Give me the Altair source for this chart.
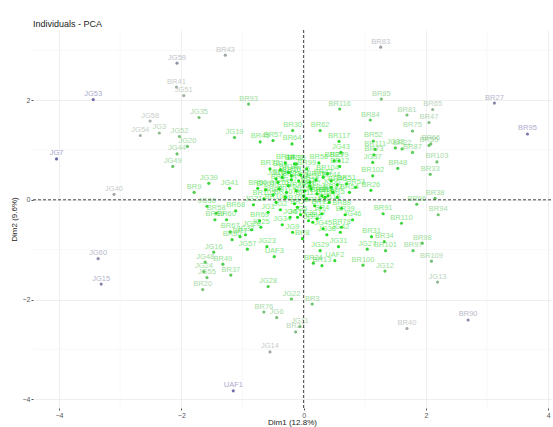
import altair as alt
import pandas as pd

# Individuals on the first two principal components
labels = [
    "BR43", "JG59", "BR41", "JG51", "JG53", "BR93", "JG35", "JG58", "JG54", "JG3",
    "JG52", "JG20", "JG19", "BR45", "BR57", "JG7", "JG44", "JG49", "JG40", "BR9",
    "JG39", "JG41", "BR50", "BR30", "BR64", "BR83", "BR85", "BR116", "BR84", "BR81",
    "BR65", "BR47", "BR75", "BR27", "BR95", "BR62", "BR117", "BR52", "JG33", "BR66",
    "BR55", "BR87", "BR22", "JG43", "BR111", "BR73", "BR103", "BR33", "BR48", "BR56",
    "BR79", "BR12", "JG37", "BR102", "BR104", "BR38", "BR96", "BR26", "BR54", "BR18",
    "BR36", "JG18", "BR94", "BR110", "BR91", "BR31", "BR34", "BR98", "BR97", "BR101",
    "JG27", "BR109", "JG12", "BR100", "JG13", "JG22", "BR3", "JG6", "JG11", "BR21",
    "BR40", "BR90", "JG14", "UAF1", "JG60", "JG15", "BR20", "BR37", "JG55", "JG48",
    "JG24", "BR49", "JG16", "JG28", "BR76", "UAF3", "JG57", "BR69", "BR60", "BR67",
    "BR68", "JG30", "BR58", "BR59", "JG21", "BR7", "BR80", "JG23", "JG9", "BR8",
    "JG29", "JG31", "UAF2", "BR24", "BR13", "BR78", "JG45", "BR15", "BR88", "BR39",
    "BR29", "BR32", "BR72", "BR1", "BR14", "BR16", "BR99", "JG10", "BR19", "BR23",
    "BR25", "BR28", "BR35", "BR42", "BR44", "BR46", "BR51", "BR53", "BR61", "BR63",
    "BR70", "BR71", "BR74", "BR77", "BR82", "BR86", "BR89", "BR92", "BR105", "BR106",
    "BR107", "BR108", "BR112", "BR113", "BR114", "BR115", "JG1", "JG2", "JG4", "JG5",
    "JG8", "JG17", "JG25", "JG26", "JG32", "JG34", "JG36", "JG38", "JG42", "JG46",
    "JG47", "JG50", "JG56", "BR2", "BR4", "BR5", "BR6", "BR10", "BR11", "BR17",
]
dim1 = [
    -1.28, -2.07, -2.08, -1.96, -3.44, -0.90, -1.71, -2.51, -2.67, -2.36,
    -2.03, -1.90, -1.13, -0.71, -0.50, -4.04, -2.07, -2.14, -3.10, -1.79,
    -1.55, -1.21, -0.75, -0.18, -0.19, 1.26, 1.27, 0.59, 1.09, 1.69,
    2.11, 2.05, 1.78, 3.12, 3.66, 0.27, 0.58, 1.14, 1.50, 2.08,
    2.05, 1.78, 1.61, 0.61, 1.17, 1.15, 2.18, 2.07, 1.54, 0.25,
    0.58, 0.59, 1.13, 1.13, 0.39, 2.15, 1.85, 1.10, 0.75, -0.30,
    -0.12, -0.10, 2.20, 1.60, 1.30, 1.11, 1.32, 1.94, 1.79, 1.34,
    1.04, 2.09, 1.33, 0.97, 2.19, -0.20, 0.14, -0.44, -0.06, -0.13,
    1.69, 2.69, -0.55, -1.15, -3.36, -3.31, -1.65, -1.19, -1.58, -1.61,
    -1.63, -1.32, -1.47, -0.58, -0.65, -0.48, -0.92, -0.72, -1.26, -1.20,
    -1.11, -1.58, -1.43, -1.45, -0.82, -1.04, -1.17, -0.60, -0.18, -0.02,
    0.27, 0.57, 0.51, 0.16, 0.30, 0.62, 0.32, 0.28, 0.62, 0.68,
    0.50, -0.15, -0.55, -0.38, -0.25, -0.05, 0.05, -0.45, -0.35, -0.20,
    -0.08, 0.10, 0.20, 0.32, 0.45, 0.55, 0.70, 0.85, -0.62, -0.50,
    -0.40, -0.28, -0.12, 0.00, 0.12, 0.22, 0.35, 0.48, -0.65, -0.45,
    -0.30, -0.15, 0.05, 0.18, 0.30, 0.42, -0.58, -0.38, -0.22, -0.05,
    0.08, 0.22, -0.70, -0.85, -0.95, -0.35, 0.15, 0.38, 0.60, 0.80,
    -0.25, 0.02, 0.45, -0.10, 0.30, 0.55, -0.42, -0.20, 0.10, 0.40,
]
dim2 = [
    2.90, 2.74, 2.26, 2.09, 2.01, 1.92, 1.65, 1.58, 1.29, 1.34,
    1.27, 1.07, 1.25, 1.16, 1.19, 0.82, 0.92, 0.67, 0.11, 0.15,
    0.33, 0.23, 0.23, 1.39, 1.12, 3.06, 2.02, 1.82, 1.60, 1.70,
    1.81, 1.55, 1.38, 1.94, 1.32, 1.39, 1.17, 1.18, 1.04, 1.12,
    1.09, 0.95, 1.02, 0.95, 1.01, 0.90, 0.76, 0.51, 0.63, 0.74,
    0.78, 0.67, 0.75, 0.48, 0.52, 0.03, -0.09, 0.19, 0.15, 0.74,
    0.72, -0.35, -0.30, -0.47, -0.28, -0.74, -0.84, -0.87, -1.02, -1.02,
    -0.99, -1.23, -1.43, -1.31, -1.65, -1.99, -2.09, -2.36, -2.54, -2.65,
    -2.58, -2.41, -3.05, -3.83, -1.18, -1.69, -1.80, -1.51, -1.56, -1.25,
    -1.44, -1.29, -1.05, -1.74, -2.25, -1.14, -0.99, -0.42, -0.40, -0.64,
    -0.22, -0.13, -0.27, -0.40, -0.10, -0.74, -0.80, -0.94, -0.65, -0.78,
    -1.02, -0.94, -1.22, -1.27, -1.32, -0.55, -0.58, -0.16, -0.17, -0.30,
    0.78, 0.72, 0.62, 0.60, 0.55, 0.50, 0.62, 0.42, 0.45, 0.40,
    0.38, 0.35, 0.40, 0.45, 0.38, 0.30, 0.32, 0.25, 0.20, 0.10,
    0.22, 0.15, 0.18, 0.08, 0.22, 0.12, 0.05, 0.15, 0.02, -0.05,
    0.05, -0.08, 0.02, -0.12, 0.08, -0.05, -0.25, -0.20, -0.35, -0.30,
    -0.42, -0.38, -0.55, -0.60, -0.70, -0.50, -0.45, -0.70, -0.65, -0.40,
    0.28, 0.18, 0.25, -0.15, -0.28, 0.05, 0.35, 0.48, 0.28, 0.08,
]

df = pd.DataFrame({"name": labels, "Dim1": dim1, "Dim2": dim2})

x_domain = [-4.425, 4.045]
y_domain = [-4.175, 3.405]
major = [-4, -2, 0, 2, 4]
minor = [-3, -1, 1, 3]

xs = alt.Scale(domain=x_domain, nice=False, zero=False)
ys = alt.Scale(domain=y_domain, nice=False, zero=False)

# squared distance from the origin drives the colour gradient
contrib = "datum.Dim1 * datum.Dim1 + datum.Dim2 * datum.Dim2"
color_scale = alt.Scale(domain=[0, 9, 17], range=["#19e019", "#a8b0a8", "#6a64aa"],
                        clamp=True, interpolate="rgb")

axis_style = dict(titleFontSize=8, titleFontWeight="normal", titleColor="#222222",
                  labelFontSize=7, labelColor="#555555", grid=True,
                  gridColor="#ebebeb", gridWidth=0.8, domain=False,
                  tickColor="#555555", tickSize=2, labelPadding=1)
x_axis = alt.Axis(values=major, title="Dim1 (12.8%)", titlePadding=0, **axis_style)
y_axis = alt.Axis(values=major, title="Dim2 (9.6%)", titlePadding=4, **axis_style)

X = lambda f: alt.X(f, scale=xs, axis=x_axis)
Y = lambda f: alt.Y(f, scale=ys, axis=y_axis)

base = alt.Chart(df).transform_calculate(contrib=contrib)

minor_x = alt.Chart(pd.DataFrame({"v": minor})).mark_rule(
    color="#f3f3f3", strokeWidth=0.6).encode(x=X("v:Q"))
minor_y = alt.Chart(pd.DataFrame({"v": minor})).mark_rule(
    color="#f3f3f3", strokeWidth=0.6).encode(y=Y("v:Q"))

zero_x = alt.Chart(pd.DataFrame({"v": [0]})).mark_rule(
    color="#333333", strokeWidth=0.9, strokeDash=[3, 2]).encode(x=X("v:Q"))
zero_y = alt.Chart(pd.DataFrame({"v": [0]})).mark_rule(
    color="#333333", strokeWidth=0.9, strokeDash=[3, 2]).encode(y=Y("v:Q"))

points = base.mark_circle(size=10, opacity=1).encode(
    x=X("Dim1:Q"),
    y=Y("Dim2:Q"),
    color=alt.Color("contrib:Q", scale=color_scale, legend=None),
)

text = base.mark_text(fontSize=7.5, font="Liberation Sans", baseline="alphabetic",
                      dy=-3.5, opacity=0.6).encode(
    x=X("Dim1:Q"),
    y=Y("Dim2:Q"),
    text="name:N",
    color=alt.Color("contrib:Q", scale=color_scale, legend=None),
)

chart = alt.layer(minor_x, minor_y, points, text, zero_x, zero_y).properties(
    width=518, height=378,
    title=alt.TitleParams("Individuals - PCA", anchor="start", frame="group",
                          fontSize=9, fontWeight="normal", color="#222222",
                          offset=1, font="Liberation Sans"),
    autosize=alt.AutoSizeParams(type="none"),
    padding={"left": 33, "top": 30, "right": 2, "bottom": 19},
).configure(font="Liberation Sans").configure_view(stroke=None)

chart.save("out.html", embed_options={"renderer": "svg", "actions": False})
